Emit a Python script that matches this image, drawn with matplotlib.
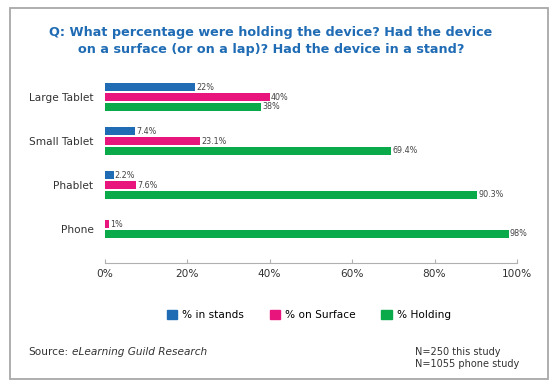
import matplotlib.pyplot as plt
from matplotlib.patches import Rectangle

categories = ['Large Tablet', 'Small Tablet', 'Phablet', 'Phone']
series = ['% in stands', '% on Surface', '% Holding']
in_stands = [22, 7.4, 2.2, None]
on_surface = [40, 23.1, 7.6, 1]
holding = [38, 69.4, 90.3, 98]
value_labels = [['22%', '40%', '38%'],
                ['7.4%', '23.1%', '69.4%'],
                ['2.2%', '7.6%', '90.3%'],
                [None, '1%', '98%']]
ticks = [0, 20, 40, 60, 80, 100]
colors = ['#1f6cb5', '#e8167c', '#0aa94a']

plt.rcParams['font.family'] = ['DejaVu Sans']

fig = plt.figure(figsize=(5.58, 3.88), dpi=100)
fig.patch.set_facecolor('white')

# outer frame
fig.patches.append(Rectangle((10 / 558, 1 - 379 / 388), 538 / 558, 371 / 388,
                             transform=fig.transFigure, fill=False,
                             edgecolor='#a8a8a8', linewidth=1.3))

ax = fig.add_axes([104.5 / 558, 125 / 388, 412.5 / 558, 188 / 388])

pitch = 0.222
h = 0.19
data = [in_stands, on_surface, holding]
for ci, cat in enumerate(categories):
    present = [si for si in range(3) if data[si][ci] is not None]
    n = len(present)
    for k, si in enumerate(present):
        y = ci + (k - (n - 1) / 2) * pitch
        v = data[si][ci]
        ax.barh(y, v, height=h, color=colors[si])
        ax.text(v + 0.3, y, value_labels[ci][si], va='center', ha='left',
                fontsize=5.8, color='#444444')

ax.set_ylim(3.77, -0.5)
ax.set_xlim(0, 100)
ax.set_yticks(range(len(categories)))
ax.set_yticklabels(categories, fontsize=7.6, color='#333333')
ax.tick_params(axis='y', length=0, pad=8)
ax.set_xticks(ticks)
ax.set_xticklabels([f'{t}%' for t in ticks], fontsize=7.6, color='#333333')
ax.tick_params(axis='x', direction='in', length=3, color='#b0b0b0', pad=4)
for s in ['top', 'right', 'left']:
    ax.spines[s].set_visible(False)
ax.spines['bottom'].set_color('#b0b0b0')

# legend
handles = [Rectangle((0, 0), 1, 1, color=c) for c in colors]
fig.legend(handles, series, loc='center', bbox_to_anchor=(309 / 558, 1 - 315 / 388),
           ncol=3, frameon=False, fontsize=7.6, handlelength=1.0, handleheight=1.0,
           columnspacing=2.4, handletextpad=0.5)

# title
fig.text(271 / 558, 1 - 41 / 388,
         'Q: What percentage were holding the device? Had the device\non a surface (or on a lap)? Had the device in a stand?',
         ha='center', va='center', fontsize=9.2, fontweight='bold', color='#1f6cb5',
         linespacing=1.45)

# source
fig.text(28 / 558, 1 - 352 / 388, 'Source:', ha='left', va='center',
         fontsize=7.6, color='#333333')
fig.text(72 / 558, 1 - 352 / 388, 'eLearning Guild Research', ha='left', va='center',
         fontsize=7.6, color='#333333', style='italic')

fig.text(415 / 558, 1 - 352 / 388, 'N=250 this study', ha='left', va='center',
         fontsize=7.0, color='#333333')
fig.text(415 / 558, 1 - 364 / 388, 'N=1055 phone study', ha='left', va='center',
         fontsize=7.0, color='#333333')

fig.savefig('out.png', dpi=100)
